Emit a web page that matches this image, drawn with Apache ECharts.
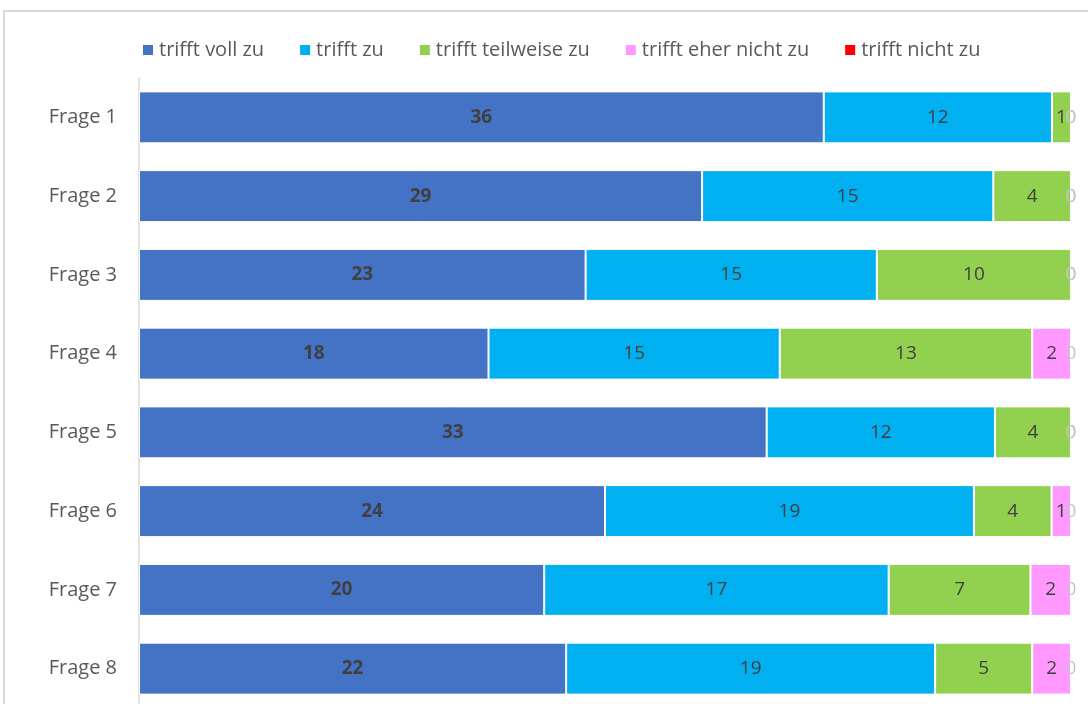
<!DOCTYPE html>
<html>
<head>
<meta charset="utf-8">
<script src="https://cdn.jsdelivr.net/npm/echarts@6/dist/echarts.min.js"></script>
<style>
  *{margin: 0; padding: 0;}
  html,body{width: 100%; height: 100%; background: #fff; overflow: hidden;}
  #chart{width: 1088px; height: 712px;}
</style>
</head>
<body>
<div id="chart"></div>
<script>
var categories = ['Frage 1', 'Frage 2', 'Frage 3', 'Frage 4', 'Frage 5', 'Frage 6', 'Frage 7', 'Frage 8']
var seriesNames = ['trifft voll zu', 'trifft zu', 'trifft teilweise zu', 'trifft eher nicht zu', 'trifft nicht zu']
var vollZu = [36, 29, 23, 18, 33, 24, 20, 22]
var zu = [12, 15, 15, 15, 12, 19, 17, 19]
var teilweiseZu = [1, 4, 10, 13, 4, 4, 7, 5]
var eherNichtZu = [0, 0, 0, 2, 0, 1, 2, 2]
var nichtZu = [0, 0, 0, 0, 0, 0, 0, 0]
var colors = ['#4472c4', '#00b0f0', '#92d050', '#ff99ff', '#ff0000']

var allSeries = [vollZu, zu, teilweiseZu, eherNichtZu, nichtZu]
var totals = categories.map(function(c, i) {
  var s = 0
  allSeries.forEach(function(arr) { s += arr[i] })
  return s
})

var series = allSeries.map(function(arr, k) {
  return {
    name: seriesNames[k],
    type: 'bar',
    stack: 'all',
    clip: false, // float sums can pass 100 a hair, keep those end labels
    barCategoryGap: '34%',
    itemStyle: { color: colors[k], borderColor: '#fff', borderWidth: 1 },
    labelLayout: { hideOverlap: false },
    label: {
      show: true,
      position: 'inside',
      fontFamily: 'Open Sans',
      fontSize: 19,
      fontWeight: k === 0 ? 'bold' : 'normal',
      color: '#404040',
      formatter: function(p) { return arr[p.dataIndex] }
    },
    data: arr.map(function(v, i) {
      var item = { value: v / totals[i] * 100 }
      // zero segments: label sits at the bar end in light grey
      if (v === 0) item.label = { color: '#c4c4c4' }
      return item
    })
  }
})

var chart = echarts.init(document.getElementById('chart'))
chart.setOption({
  animation: false,
  color: colors,
  graphic: [{
    type: 'rect',
    shape: { x: 4, y: 11, width: 1200, height: 800 },
    style: { fill: 'none', stroke: '#d9d9d9', lineWidth: 2 },
    silent: true
  }],
  legend: {
    top: 35,
    left: 136,
    itemWidth: 12,
    itemHeight: 12,
    itemGap: 34,
    icon: 'rect',
    textStyle: { color: '#595959', fontFamily: 'Open Sans', fontSize: 20 },
    data: seriesNames
  },
  grid: { left: 139, right: 17, top: 78, height: 630, containLabel: false },
  xAxis: { type: 'value', min: 0, max: 100, show: false },
  yAxis: {
    type: 'category',
    inverse: true,
    data: categories,
    axisLine: { lineStyle: { color: '#d9d9d9', width: 1.5 } },
    axisTick: { show: false },
    axisLabel: { color: '#595959', fontFamily: 'Open Sans', fontSize: 20, margin: 22 }
  },
  series: series
})
</script>
</body>
</html>
